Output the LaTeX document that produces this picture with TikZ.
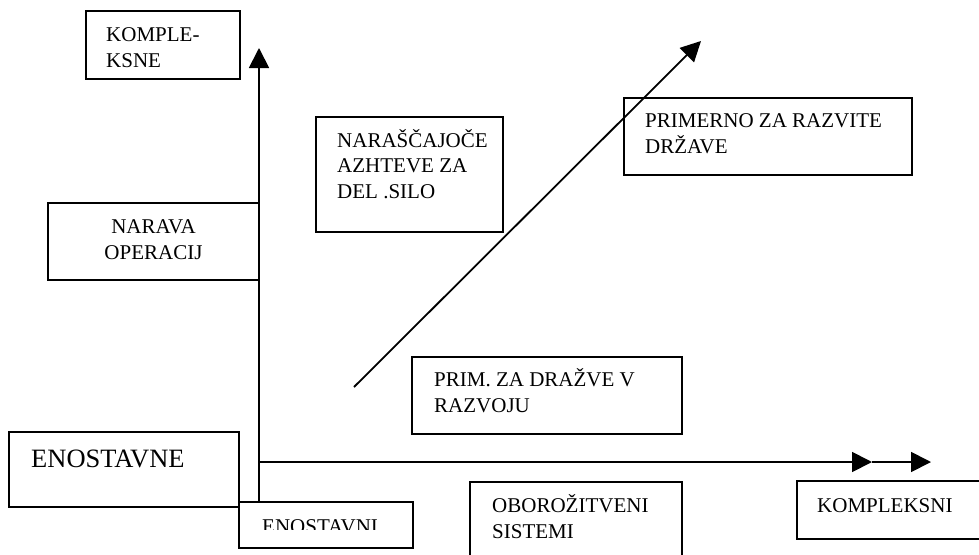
\documentclass[tikz,border=0pt]{standalone}
\usepackage{fontspec}
\setmainfont{Liberation Serif}
\usetikzlibrary{arrows.meta}
\tikzset{
  boxn/.style={draw, line width=1.8pt, anchor=north west, inner sep=0pt, outer sep=0pt},
  txt/.style={font=\fontsize{21}{25.5}\selectfont, inner sep=0pt, align=left, anchor=base west},
  axis/.style={line width=1.8pt, -{Triangle[length=20pt,width=20pt]}}
}
\begin{document}
\begin{tikzpicture}[x=1pt,y=-1pt]
\clip (0,0) rectangle (979,554);
\useasboundingbox (0,0) rectangle (979,554);
% boxes
\node[boxn, minimum width=154pt, minimum height=68pt] (kbox) at (86,11) {};
\node[txt] (ktxt) at (106,67) {KOMPLE-\\KSNE};
\node[boxn, minimum width=211pt, minimum height=77pt] (nbox) at (48,203) {};
\node[txt, align=center, anchor=base] (ntxt) at (153.5,259) {NARAVA\\OPERACIJ};
\node[boxn, minimum width=187pt, minimum height=115pt] (sbox) at (316,117) {};
\node[txt] (stxt) at (337,198) {NARAŠČAJOČE\\AZHTEVE ZA\\DEL .SILO};
\node[boxn, minimum width=288pt, minimum height=77pt] (rbox) at (624,98) {};
\node[txt] (rtxt) at (645,153) {PRIMERNO ZA RAZVITE\\DRŽAVE};
\node[boxn, minimum width=270pt, minimum height=77pt] (pbox) at (412,357) {};
\node[txt] (ptxt) at (434,412) {PRIM. ZA DRAŽVE V\\RAZVOJU};
\node[boxn, minimum width=230pt, minimum height=75pt] (ebox) at (9,432) {};
\node[txt, font=\fontsize{26.5}{30}\selectfont] (etxt) at (31,467) {ENOSTAVNE};
\node[boxn, minimum width=174pt, minimum height=46pt] (eibox) at (239,502) {};
\begin{scope}
\clip (239,502) rectangle (413,529);
\node[txt] (eitxt) at (262,533) {ENOSTAVNI};
\end{scope}
\node[boxn, minimum width=212pt, minimum height=100pt] (obox) at (470,482) {};
\node[txt] (otxt) at (492,538) {OBOROŽITVENI\\SISTEMI};
\node[boxn, minimum width=200pt, minimum height=58pt] (kxbox) at (797,481) {};
\node[txt] (kxtxt) at (817,512) {KOMPLEKSNI};
% axes
\coordinate (ybot) at (259,502);
\coordinate (ytop) at (259,48);
\coordinate (O) at (259,462);
\coordinate (xmid) at (872,462);
\coordinate (xend) at (931,462);
\coordinate (dstart) at (354,387);
\coordinate (dend) at (701,41);
\draw[axis] (ybot) -- (ytop);
\draw[axis] (O) -- (xmid);
\draw[axis] (xmid) -- (xend);
\draw[axis] (dstart) -- (dend);
\end{tikzpicture}
\end{document}
